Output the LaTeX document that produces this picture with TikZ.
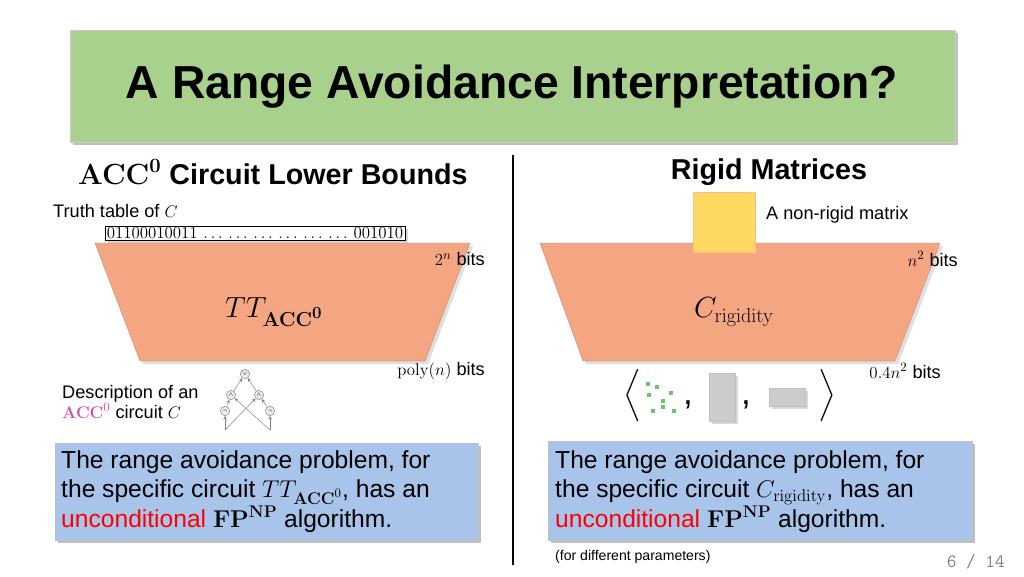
\documentclass[tikz,border=0pt]{standalone}
\usepackage[no-math]{fontspec}
\setmainfont{Liberation Sans}
\usepackage{amsmath}
\usetikzlibrary{shadows}
\definecolor{tgreen}{HTML}{A9D18E}
\definecolor{tpeach}{HTML}{F4A582}
\definecolor{tblue}{HTML}{A9C4EB}
\definecolor{tpink}{HTML}{D64FB0}
\begin{document}
\begin{tikzpicture}[x=0.03cm,y=-0.03cm,
  lbl/.style={inner sep=0pt,font=\fontsize{15.5}{18}\selectfont},
  big/.style={inner sep=0pt,font=\fontsize{24.5}{28}\selectfont\bfseries},
  cg/.style={circle,draw=gray,fill=gray!15,minimum size=8pt,inner sep=0pt,font=\fontsize{4}{4}\selectfont},
  ca/.style={-stealth,gray,line width=0.4pt}]
\useasboundingbox (0,0) rectangle (1024,576);
\fill[white] (0,0) rectangle (1024,576);
% title
\node[draw=gray!40,fill=tgreen,drop shadow,minimum width=885*0.03cm,minimum height=112*0.03cm,inner sep=0pt] (title) at (512.5,86) {};
\node[font=\fontsize{39.5}{44}\selectfont\bfseries] (tt) at (512,87) {A Range Avoidance Interpretation?};
% divider
\draw[line width=2pt] (513,155) -- (513,565);
% headings
\node[big,anchor=west] (hl) at (78,172) {$\mathbf{ACC}^{\mathbf{0}}$ Circuit Lower Bounds};
\node[big] (hr) at (769,172) {Rigid Matrices};
% trapezoids
\fill[tpeach,draw=tpeach!80!black,line width=0.3pt,drop shadow={opacity=0.25}] (95,243) -- (470,243) -- (425,361) -- (140,361) -- cycle;
\node[font=\fontsize{27}{30}\selectfont] (ttacc) at (274,312) {$TT_{\mathbf{ACC}^{\mathbf{0}}}$};
\fill[tpeach,draw=tpeach!80!black,line width=0.3pt,drop shadow={opacity=0.25}] (540,243) -- (940,243) -- (895,361) -- (583,361) -- cycle;
\node[font=\fontsize{27}{30}\selectfont] (crig) at (734,312) {$C_{\mathrm{rigidity}}$};
% left top
\node[lbl,anchor=west] (tl) at (53,211) {Truth table of $C$};
\node[draw,fill=white,inner sep=1.5pt,anchor=west,font=\fontsize{15}{17}\selectfont,drop shadow={opacity=0.3}] (tab) at (105,233) {$01100010011\,\ldots\,\ldots\,\ldots\,\ldots\,\ldots\,\ldots\,001010$};
\node[lbl,anchor=east] (b1) at (485,259) {$2^n$ bits};
\node[lbl,anchor=east] (b2) at (485,371) {$\mathrm{poly}(n)$ bits};
% right top
\node[fill=yellow!55!orange!60,draw=orange!50,minimum width=62*0.03cm,minimum height=60*0.03cm,inner sep=0pt] (ym) at (724,222) {};
\node[lbl,anchor=west] (nr) at (766,215) {A non-rigid matrix};
\node[lbl,anchor=east] (b3) at (958,259) {$n^2$ bits};
\node[lbl,anchor=east] (b4) at (941,371) {$0.4n^2$ bits};
% left description
\node[lbl,anchor=west,align=left] (desc) at (62,402) {Description of an\\[-1pt]{\color{tpink}$\mathbf{ACC}^0$} circuit $C$};
% circuit sketch
\node[cg] (v) at (245,374) {$\vee$};
\node[cg] (a1) at (231,395) {$\wedge$};
\node[cg] (a2) at (259,395) {$\wedge$};
\node[cg] (n1) at (225,411) {$\neg$};
\node[cg] (n2) at (270,411) {$\neg$};
\coordinate (x1) at (225,430); \coordinate (x2) at (270,430);
\draw[ca] (a1) -- (v); \draw[ca] (a2) -- (v);
\draw[ca] (n1) -- (a1); \draw[ca] (n2) -- (a2);
\draw[ca] (x1) -- (n1); \draw[ca] (x2) -- (n2);
\draw[ca] (x1) -- (a2); \draw[ca] (x2) -- (a1);
% right tuple
\node[font=\fontsize{30}{32}\selectfont] (la) at (632,396) {$\Big\langle$};
\node[font=\fontsize{30}{32}\selectfont] (ra) at (827,396) {$\Big\rangle$};
\node[font=\fontsize{30}{32}\selectfont] (c1) at (688,405) {,};
\node[font=\fontsize{30}{32}\selectfont] (c2) at (746,405) {,};
\foreach \p [count=\i] in {(648,384),(657,387),(649,395),(671,393),(663,401),(663,407),(653,411),(674,411)}
  \fill[green!55!black!55] \p ++(-2,-2) rectangle ++(4,4);
\node[fill=gray!40,draw=gray!50,drop shadow={opacity=0.3},minimum width=26*0.03cm,minimum height=48*0.03cm,inner sep=0pt] (m1) at (722,397) {};
\node[fill=gray!40,draw=gray!50,drop shadow={opacity=0.3},minimum width=36*0.03cm,minimum height=18*0.03cm,inner sep=0pt] (m2) at (787,397) {};
% bottom boxes
\node[draw=gray!50,fill=tblue,drop shadow,minimum width=423*0.03cm,minimum height=97*0.03cm,inner sep=0pt] (bl) at (266.5,491.5) {};
\node[anchor=north west,align=left,font=\fontsize{21}{25.5}\selectfont,inner sep=0pt] (blt) at (61,450) {The range avoidance problem, for\\the specific circuit $TT_{\mathbf{ACC}^0}$, has an\\{\color{red}unconditional} $\mathbf{FP}^{\mathbf{NP}}$ algorithm.};
\node[draw=gray!50,fill=tblue,drop shadow,minimum width=424*0.03cm,minimum height=99*0.03cm,inner sep=0pt] (br) at (760,490.5) {};
\node[anchor=north west,align=left,font=\fontsize{21}{25.5}\selectfont,inner sep=0pt] (brt) at (555,450) {The range avoidance problem, for\\the specific circuit $C_{\mathrm{rigidity}}$, has an\\{\color{red}unconditional} $\mathbf{FP}^{\mathbf{NP}}$ algorithm.};
\node[anchor=west,inner sep=0pt,font=\fontsize{12}{14}\selectfont] (fdp) at (555,557) {(for different parameters)};
\node[anchor=east,inner sep=0pt,text=gray,font=\fontsize{16}{18}\selectfont\ttfamily] (pg) at (1005,562) {6 / 14};
\end{tikzpicture}
\end{document}
